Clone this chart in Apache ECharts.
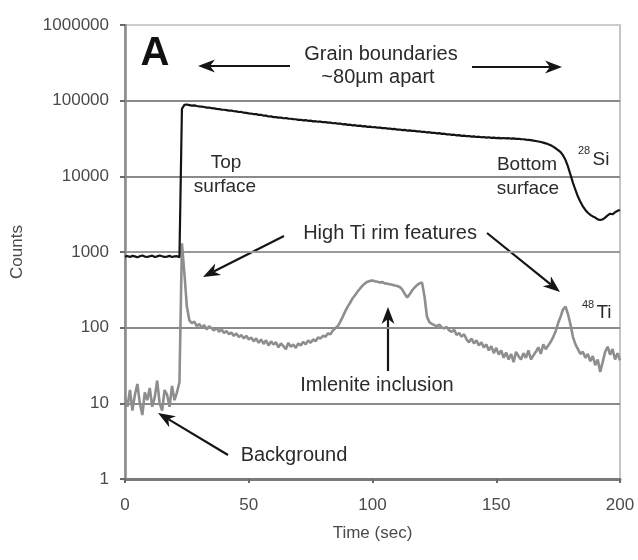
<!DOCTYPE html>
<html>
<head>
<meta charset="utf-8">
<title>Depth profile</title>
<script src="https://cdn.jsdelivr.net/npm/echarts@6/dist/echarts.min.js"></script>
<style>
  html, body { margin: 0; padding: 0; background: #fff; }
  #chart { width: 638px; height: 560px; }
</style>
</head>
<body>
<div id="chart"></div>
<script>
// Sputtering time (s), one reading per second
const timeSec = [];
for (let t = 0; t <= 200; t++) timeSec.push(t);

// 28Si counts per second
const siCounts = [
  870, 885, 860, 890, 875, 850, 880, 900, 870, 860, 880, 895, 860, 875, 900, 880, 860, 870, 890, 860, 875, 880, 855,
  78000, 88000, 89000, 87500, 86000, 86500, 85000, 84000,
  83500, 82500, 81000, 81200, 79500, 79000, 78000, 77500, 76000, 75800,
  75000, 73800, 74000, 72500, 72200, 70800, 70900, 69300, 69100, 67800,
  67600, 66200, 66300, 64800, 65000, 63300, 63400, 61800, 62000, 60700,
  60600, 59600, 59800, 58600, 59000, 57800, 57700, 56900, 56800, 55800,
  55900, 55000, 55200, 54200, 54400, 53300, 53500, 52700, 52800, 51900,
  52100, 51200, 51300, 50300, 50500, 49600, 49700, 48700, 48900, 47900,
  48100, 47200, 47400, 46500, 46700, 45800, 46000, 45100, 45300, 44500,
  44600, 43900, 44100, 43300, 43500, 42700, 42900, 42100, 42300, 41400,
  41600, 40800, 41100, 40300, 40500, 39800, 39900, 39200, 39400, 38600,
  38800, 38000, 38300, 37500, 37700, 36900, 37200, 36400, 36600, 35800,
  36000, 35300, 35500, 34800, 35000, 34300, 34500, 33900, 34100, 33500,
  33700, 33100, 33400, 32800, 33100, 32500, 32800, 32200, 32500, 32000,
  32300, 31800, 32100, 31700, 31900, 31500, 31700, 31300, 31400, 31000,
  30900, 30600, 30400, 30100, 29700, 29300, 28900, 28400, 27900, 27300,
  26500, 25700, 24700, 23500, 22200, 20900, 18900, 16400, 13400, 10500,
  8200, 6600, 5400, 4600, 4000, 3600, 3300, 3100, 2950, 2850,
  2700, 2650, 2700, 2850, 3050, 3200, 3150, 3350, 3500, 3600
];

// 48Ti counts per second
const tiCounts = [
  12, 9, 15, 8, 13, 18, 10, 7, 14, 11, 16, 9, 12, 20, 10, 8, 15, 13, 9, 17, 11, 14, 19,
  1300, 520, 190, 125, 115, 120, 105, 112,
  100, 108, 95, 104, 98, 92, 100, 88, 95, 85,
  90, 82, 86, 78, 84, 75, 80, 72, 78, 70,
  74, 66, 72, 63, 70, 61, 68, 58, 66, 60,
  64, 55, 62, 57, 52, 63, 56, 60, 54, 62,
  58, 65, 60, 68, 63, 70, 66, 74, 72, 78,
  76, 84, 82, 92, 98, 105, 120, 140, 165, 190,
  215, 245, 270, 300, 330, 360, 385, 405, 415, 420,
  410, 405, 395, 400, 385, 380, 375, 370, 360, 355,
  345, 320, 280, 250, 275, 310, 340, 365, 385, 395,
  260, 140, 118, 112, 108, 104, 110, 100, 98, 102,
  92, 88, 94, 80, 85, 76, 82, 70, 64, 72,
  62, 68, 58, 64, 55, 60, 50, 57, 46, 54,
  44, 50, 40, 47, 38, 45, 35, 48, 42, 38,
  46, 40, 50, 38, 43, 48, 55, 45, 60, 52,
  58, 65, 75, 90, 115, 140, 175, 190, 150, 110,
  75, 60, 52, 45, 48, 40, 45, 36, 42, 32,
  38, 26, 35, 48, 56, 44, 52, 38, 46, 37
];

const xTicks = [0, 50, 100, 150, 200];
const yTicks = [1, 10, 100, 1000, 10000, 100000, 1000000];

const FONT = "'Liberation Sans', Arial, sans-serif";
const INK = '#151515';

function pairs(xs, ys) {
  return xs.map((x, i) => [x, ys[i]]);
}

// Straight arrow with a notched, filled head pointing at (x2, y2)
function arrow(x1, y1, x2, y2) {
  const a = Math.atan2(y2 - y1, x2 - x1);
  const len = 17, half = 6.5, notch = 5;
  const cx = Math.cos(a), sx = Math.sin(a);
  const bx = x2 - cx * len, by = y2 - sx * len;
  const nx = x2 - cx * (len - notch), ny = y2 - sx * (len - notch);
  return [
    { type: 'line', silent: true,
      shape: { x1: x1, y1: y1, x2: nx, y2: ny },
      style: { stroke: INK, lineWidth: 2.2 } },
    { type: 'polygon', silent: true,
      shape: { points: [[x2, y2], [bx - sx * half, by + cx * half], [nx, ny], [bx + sx * half, by - cx * half]] },
      style: { fill: INK } }
  ];
}

function label(text, x, y, size, opts) {
  return Object.assign({
    type: 'text', x: x, y: y, silent: true,
    style: { text: text, font: (opts && opts.bold ? 'bold ' : '') + size + 'px ' + FONT,
             fill: '#2b2b2b', align: 'center', verticalAlign: 'middle' }
  }, {});
}

const chart = echarts.init(document.getElementById('chart'), null, { renderer: 'canvas' });

const graphics = [].concat(
  [
    { type: 'text', x: 155, y: 54, silent: true,
      style: { text: 'A', font: 'bold 40px ' + FONT, fill: '#111', align: 'center', verticalAlign: 'middle' } },
    label('Grain boundaries', 381, 54, 20),
    label('~80\u00b5m apart', 378, 77, 20),
    label('Top', 226, 163, 19),
    label('surface', 225, 187, 19),
    label('Bottom', 527, 165, 19),
    label('surface', 528, 189, 19),
    label('28', 584, 151, 11),
    label('Si', 601, 160, 19),
    label('High Ti rim features', 390, 233, 20),
    label('48', 588, 305, 11),
    label('Ti', 604, 313, 19),
    label('Imlenite inclusion', 377, 385, 20),
    label('Background', 294, 455, 20)
  ],
  arrow(290, 66, 198, 66),
  arrow(472, 67, 562, 67),
  arrow(284, 236, 203, 277),
  arrow(487, 233, 560, 292),
  arrow(388, 371, 388, 307),
  arrow(228, 455, 158, 413)
);

chart.setOption({
  animation: false,
  backgroundColor: '#fff',
  textStyle: { fontFamily: FONT },
  grid: {
    left: 125, right: 18, top: 25, bottom: 81,
    show: true, borderColor: '#c4c4c4', borderWidth: 2, backgroundColor: 'transparent'
  },
  xAxis: {
    type: 'value', min: xTicks[0], max: xTicks[xTicks.length - 1], interval: 50,
    name: 'Time (sec)', nameLocation: 'middle', nameGap: 46,
    nameTextStyle: { fontSize: 17, color: '#4a4a4a', fontFamily: FONT },
    axisLine: { show: true, onZero: false, lineStyle: { color: '#7a7a7a', width: 3 } },
    axisTick: { show: true, length: 4, lineStyle: { color: '#6a6a6a', width: 2 } },
    axisLabel: { color: '#4a4a4a', fontSize: 17, margin: 18, fontFamily: FONT },
    splitLine: { show: false }
  },
  yAxis: {
    type: 'log', logBase: 10, min: yTicks[0], max: yTicks[yTicks.length - 1],
    name: 'Counts', nameLocation: 'middle', nameGap: 99, nameRotate: 90,
    nameTextStyle: { fontSize: 17, color: '#4a4a4a', fontFamily: FONT },
    axisLine: { show: true, lineStyle: { color: '#8a8a8a', width: 2.5 } },
    axisTick: { show: true, length: 5, lineStyle: { color: '#6a6a6a', width: 2 } },
    axisLabel: {
      color: '#4a4a4a', fontSize: 17, margin: 16, fontFamily: FONT,
      formatter: v => String(Math.round(v))
    },
    splitLine: {
      show: true,
      lineStyle: { color: ['#8a8a8a', '#8a8a8a', '#8a8a8a', '#9a9a9a', '#8a8a8a', '#8a8a8a', '#cccccc'], width: 2 }
    }
  },
  series: [
    {
      name: '48Ti', type: 'line', data: pairs(timeSec, tiCounts),
      showSymbol: false, symbol: 'none', z: 3,
      lineStyle: { color: '#8e8e8e', width: 2.6 }
    },
    {
      name: '28Si', type: 'line', data: pairs(timeSec, siCounts),
      showSymbol: false, symbol: 'none', z: 4,
      lineStyle: { color: '#141414', width: 2.2 }
    }
  ],
  graphic: graphics
});
</script>
</body>
</html>
